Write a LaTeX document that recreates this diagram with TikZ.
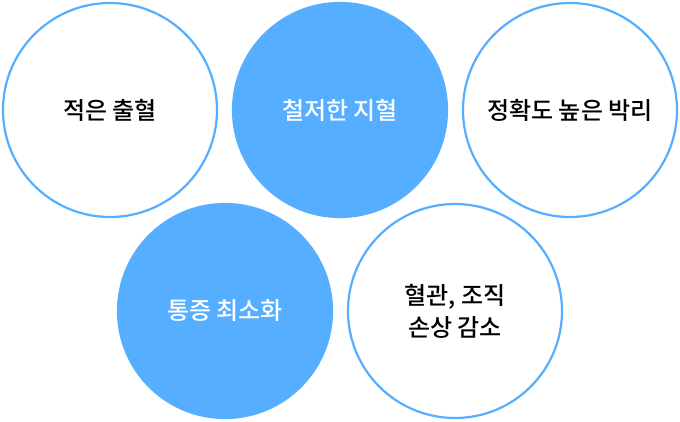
\documentclass[tikz,border=0pt]{standalone}
\usepackage{fontspec}
\newfontfamily\cjk{Noto Sans CJK KR}[UprightFont={* Medium},BoldFont={* Bold}]
\definecolor{cblue}{HTML}{55AEFF}
\begin{document}
\begin{tikzpicture}[x=1pt,y=-1pt,
  ring/.style={circle,draw=cblue,line width=2.2pt,fill=white,minimum size=214pt,inner sep=0pt,align=center,font=\cjk\fontsize{24}{32}\selectfont,text=black},
  full/.style={ring,fill=cblue,text=white}]
\useasboundingbox (0,0) rectangle (680,421);
\node[ring] (a) at (110,110) {적은 출혈};
\node[full] (b) at (340,110) {철저한 지혈};
\node[ring] (c) at (570,110) {정확도 높은 박리};
\node[full] (d) at (225,311) {통증 최소화};
\node[ring] (e) at (455,311) {혈관, 조직\\손상 감소};
\end{tikzpicture}
\end{document}
